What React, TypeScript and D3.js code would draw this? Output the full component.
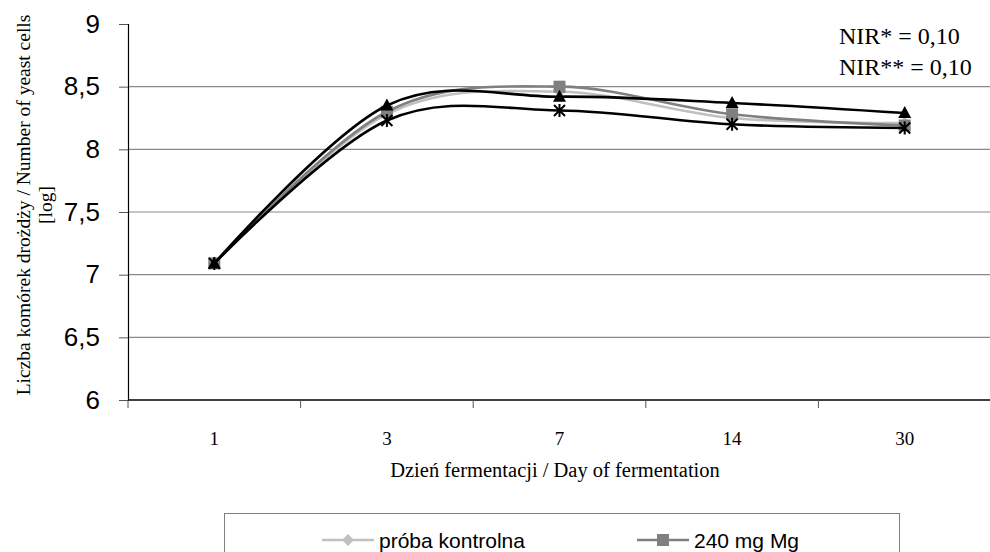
import * as d3 from "d3";
import { useEffect, useRef } from "react";

// dane
const days = ["1", "3", "7", "14", "30"];
const control = [7.09, 8.28, 8.46, 8.25, 8.21];
const mg240 = [7.09, 8.3, 8.5, 8.28, 8.19];
const seriesTriangle = [7.09, 8.35, 8.42, 8.37, 8.29];
const seriesStar = [7.09, 8.23, 8.31, 8.2, 8.17];
const yTicks = [6, 6.5, 7, 7.5, 8, 8.5, 9];
const nirLines = ["NIR* = 0,10", "NIR** = 0,10"];

const W = 990;
const H = 552;

export default function App() {
  const svgRef = useRef<SVGSVGElement | null>(null);

  useEffect(() => {
    if (!svgRef.current) return;
    const svg = d3.select(svgRef.current);
    svg.selectAll("*").remove();

    const left = 128;
    const right = 991;
    const top = 24;
    const bottom = 400;

    const x = d3.scaleBand().domain(days).range([left, right]).padding(0);
    const cx = (d: string) => x(d)! + x.bandwidth() / 2;
    const y = d3.scaleLinear().domain([6, 9]).range([bottom, top]);

    const serif = "'Liberation Serif', 'Times New Roman', serif";
    const sans = "'Liberation Sans', Arial, sans-serif";

    svg.append("rect").attr("width", W).attr("height", H).attr("fill", "#fff");

    // linie siatki
    svg
      .append("g")
      .selectAll("line")
      .data(yTicks.filter((t) => t > 6 && t < 9))
      .enter()
      .append("line")
      .attr("x1", left)
      .attr("x2", right)
      .attr("y1", (d) => y(d))
      .attr("y2", (d) => y(d))
      .attr("stroke", "#8a8a8a")
      .attr("stroke-width", 1.2);

    // oś Y
    const yAxis = svg
      .append("g")
      .attr("transform", `translate(${left},0)`)
      .call(
        d3
          .axisLeft(y)
          .tickValues(yTicks)
          .tickSize(9)
          .tickPadding(19)
          .tickFormat((d) => String(d).replace(".", ","))
      );
    yAxis.select(".domain").attr("stroke", "#000").attr("stroke-width", 1.2);
    yAxis.selectAll(".tick line").attr("stroke", "#555");
    yAxis
      .selectAll("text")
      .attr("font-family", sans)
      .attr("font-size", 26)
      .attr("fill", "#000");

    // oś X
    const xAxis = svg
      .append("g")
      .attr("transform", `translate(0,${bottom})`)
      .call(d3.axisBottom(x).tickSize(0).tickPadding(32));
    xAxis.select(".domain").remove();
    xAxis
      .selectAll("text")
      .attr("font-family", serif)
      .attr("font-size", 19)
      .attr("fill", "#000");
    svg
      .append("line")
      .attr("x1", left)
      .attr("x2", right)
      .attr("y1", bottom)
      .attr("y2", bottom)
      .attr("stroke", "#000")
      .attr("stroke-width", 1.5);
    svg
      .append("g")
      .selectAll("line")
      .data(days)
      .enter()
      .append("line")
      .attr("x1", (d) => x(d)!)
      .attr("x2", (d) => x(d)!)
      .attr("y1", bottom)
      .attr("y2", bottom + 8)
      .attr("stroke", "#555");

    // tytuły osi
    svg
      .append("text")
      .attr("x", 555)
      .attr("y", 477)
      .attr("text-anchor", "middle")
      .attr("font-family", serif)
      .attr("font-size", 20.5)
      .text("Dzień fermentacji / Day of fermentation");

    const yTitle = svg
      .append("text")
      .attr("transform", "translate(0,205) rotate(-90)")
      .attr("text-anchor", "middle")
      .attr("font-family", serif)
      .attr("font-size", 19.5);
    yTitle.append("tspan").attr("x", 0).attr("y", 30).text("Liczba komórek drożdży / Number of yeast cells");
    yTitle.append("tspan").attr("x", 0).attr("y", 52).text("[log]");

    // serie
    const line = d3
      .line<number>()
      .x((_, i) => cx(days[i]))
      .y((d) => y(d))
      .curve(d3.curveCardinal.tension(0));

    const series = [
      { name: "próba kontrolna", values: control, color: "#c0c0c0", marker: "diamond" },
      { name: "240 mg Mg", values: mg240, color: "#808080", marker: "square" },
      { name: "triangle", values: seriesTriangle, color: "#000", marker: "triangle" },
      { name: "star", values: seriesStar, color: "#000", marker: "star" },
    ];

    const drawMarker = (
      g: d3.Selection<SVGGElement, unknown, null, undefined>,
      kind: string,
      color: string,
      px: number,
      py: number
    ) => {
      if (kind === "diamond") {
        g.append("path")
          .attr("d", d3.symbol().type(d3.symbolDiamond2).size(90)())
          .attr("transform", `translate(${px},${py})`)
          .attr("fill", color);
      } else if (kind === "square") {
        g.append("rect")
          .attr("x", px - 6)
          .attr("y", py - 6)
          .attr("width", 12)
          .attr("height", 12)
          .attr("fill", color);
      } else if (kind === "triangle") {
        g.append("path")
          .attr("d", `M${px},${py - 7}L${px + 6.5},${py + 5}L${px - 6.5},${py + 5}Z`)
          .attr("fill", color);
      } else {
        const r = 5.5;
        g.append("path")
          .attr(
            "d",
            `M${px - r},${py - r}L${px + r},${py + r}M${px - r},${py + r}L${px + r},${py - r}M${px},${py - r - 1}L${px},${py + r + 1}`
          )
          .attr("stroke", color)
          .attr("stroke-width", 2)
          .attr("fill", "none");
      }
    };

    series.forEach((s) => {
      const g = svg.append("g");
      g.append("path")
        .attr("d", line(s.values))
        .attr("fill", "none")
        .attr("stroke", s.color)
        .attr("stroke-width", 2.6);
      s.values.forEach((v, i) => drawMarker(g, s.marker, s.color, cx(days[i]), y(v)));
    });

    // NIR
    svg
      .append("rect")
      .attr("x", 822)
      .attr("y", 14)
      .attr("width", 168)
      .attr("height", 72)
      .attr("fill", "#fff");
    svg
      .append("g")
      .selectAll("text")
      .data(nirLines)
      .enter()
      .append("text")
      .attr("x", 839)
      .attr("y", (_, i) => 44 + i * 31)
      .attr("font-family", serif)
      .attr("font-size", 24)
      .text((d) => d);

    // legenda
    svg
      .append("rect")
      .attr("x", 224.5)
      .attr("y", 513.5)
      .attr("width", 675)
      .attr("height", 60)
      .attr("fill", "#fff")
      .attr("stroke", "#808080")
      .attr("stroke-width", 1);

    const legendItems = [
      { s: series[0], x0: 322 },
      { s: series[1], x0: 637 },
    ];
    legendItems.forEach(({ s, x0 }) => {
      const g = svg.append("g");
      g.append("line")
        .attr("x1", x0)
        .attr("x2", x0 + 52)
        .attr("y1", 540)
        .attr("y2", 540)
        .attr("stroke", s.color)
        .attr("stroke-width", 2.6);
      drawMarker(g, s.marker, s.color, x0 + 26, 540);
      g.append("text")
        .attr("x", x0 + 57)
        .attr("y", 548)
        .attr("font-family", sans)
        .attr("font-size", 21)
        .text(s.name);
    });
  }, []);

  return (
    <svg
      ref={svgRef}
      width={W}
      height={H}
      style={{ position: "absolute", left: 0, top: 0, display: "block" }}
    />
  );
}
